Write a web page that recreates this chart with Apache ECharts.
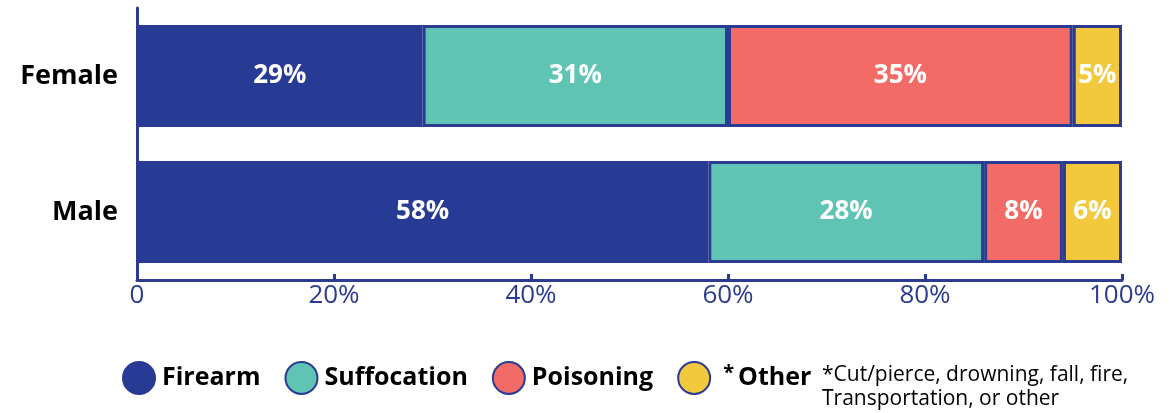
<!DOCTYPE html>
<html>
<head>
<meta charset="utf-8">
<script src="https://cdn.jsdelivr.net/npm/echarts@6/dist/echarts.min.js"></script>
<style>html,body{margin:0;padding:0;background:#fff}#c{width:1173px;height:413px}</style>
</head>
<body>
<div id="c"></div>
<script>
const categories = ['Female', 'Male'];
const seriesNames = ['Firearm', 'Suffocation', 'Poisoning', 'Other'];
const firearm = [29, 58];
const suffocation = [31, 28];
const poisoning = [35, 8];
const other = [5, 6];
const xTicks = [0, 20, 40, 60, 80, 100];
const footnote = ['*Cut/pierce, drowning, fall, fire,', 'Transportation, or other'];

const colors = ['#283b94', '#5fc4b4', '#f26b66', '#f2c83c'];
const navy = '#2a3b91';
const values = [firearm, suffocation, poisoning, other];

const chart = echarts.init(document.getElementById('c'));
chart.setOption({
  animation: false,
  grid: { left: 137, right: 51, top: 8, bottom: 133 },
  xAxis: {
    type: 'value', min: xTicks[0], max: xTicks[xTicks.length - 1], interval: 20,
    axisLine: { show: true, lineStyle: { color: navy, width: 3 } },
    axisTick: { show: true, inside: true, length: 6, lineStyle: { color: navy, width: 3 } },
    splitLine: { show: false },
    axisLabel: {
      color: navy, fontFamily: 'Open Sans', fontSize: 26, margin: 3,
      formatter: v => v === 0 ? '0' : v + '%'
    }
  },
  yAxis: {
    type: 'category', data: categories, inverse: true,
    axisLine: { show: true, lineStyle: { color: navy, width: 3 } },
    axisTick: { show: false },
    axisLabel: { color: '#000', fontFamily: 'Open Sans', fontWeight: 'bold', fontSize: 27, margin: 19 }
  },
  legend: {
    left: 122, top: 361, padding: 0, itemGap: 24,
    itemWidth: 32, itemHeight: 32, icon: 'circle',
    data: seriesNames,
    textStyle: {
      color: '#000', fontFamily: 'Open Sans', fontWeight: 'bold', fontSize: 25, padding: [0, 0, 0, 2],
      rich: {
        s: { fontFamily: 'Open Sans', fontSize: 20, color: '#000', padding: [0, 4, 10, 6] },
        b: { fontFamily: 'Open Sans', fontWeight: 'bold', fontSize: 25, color: '#000' }
      }
    },
    formatter: n => n === 'Other' ? '{s|*}{b|Other}' : n
  },
  graphic: [{
    type: 'text', left: 822, top: 363,
    style: {
      text: footnote.join('\n'), fill: '#000',
      font: '21px "Open Sans"', lineHeight: 24
    }
  }],
  series: seriesNames.map((name, i) => ({
    name, type: 'bar', stack: 'total', barWidth: 102,
    data: values[i],
    itemStyle: { color: colors[i], borderColor: navy, borderWidth: 3 },
    label: {
      show: true, position: 'inside', color: '#fff',
      fontFamily: 'Open Sans', fontWeight: 'bold', fontSize: 26,
      formatter: p => p.value + '%'
    }
  }))
});
</script>
</body>
</html>
